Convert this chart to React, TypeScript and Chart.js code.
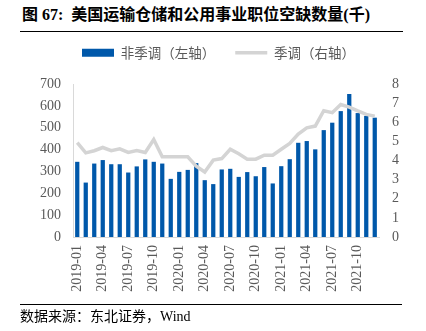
import React, { useEffect, useRef } from "react";
import { Chart, registerables } from "chart.js";

Chart.register(...registerables);

const categories = [
  "2019-01", "2019-02", "2019-03", "2019-04", "2019-05", "2019-06",
  "2019-07", "2019-08", "2019-09", "2019-10", "2019-11", "2019-12",
  "2020-01", "2020-02", "2020-03", "2020-04", "2020-05", "2020-06",
  "2020-07", "2020-08", "2020-09", "2020-10", "2020-11", "2020-12",
  "2021-01", "2021-02", "2021-03", "2021-04", "2021-05", "2021-06",
  "2021-07", "2021-08", "2021-09", "2021-10", "2021-11", "2021-12",
];

const nonSeasonal = [
  344, 249, 336, 352, 333, 333, 295, 323, 355, 344, 336, 266,
  298, 307, 338, 260, 242, 309, 312, 275, 297, 278, 320, 245,
  324, 356, 431, 439, 401, 489, 523, 576, 654, 567, 554, 546,
];

const seasonal = [
  4.93, 4.4, 4.51, 4.68, 4.51, 4.61, 4.42, 4.52, 4.42, 5.1, 4.19, 4.19,
  4.19, 4.19, 3.7, 3.4, 4.02, 4.1, 4.59, 4.35, 4.07, 4.07, 4.28, 4.28,
  4.59, 4.89, 5.38, 5.71, 5.8, 6.6, 6.5, 6.93, 6.79, 6.59, 6.41, 6.32,
];

const seriesNames = ["非季调（左轴）", "季调（右轴）"];
const titleText = "图 67:  美国运输仓储和公用事业职位空缺数量(千)";
const sourceText = "数据来源：东北证券，Wind";

const BLUE = "#0058AA";
const GREY = "#D4D4D4";
const TICK = "#595959";
const SERIF = "'Times New Roman', 'Liberation Serif', serif";
const CJK = "'Noto Sans CJK SC', sans-serif";

export default function App() {
  const ref = useRef<HTMLCanvasElement | null>(null);

  useEffect(() => {
    if (!ref.current) return;
    const legendHeight = {
      id: "legendHeight",
      beforeInit(chart: any) {
        const orig = chart.legend.fit;
        chart.legend.fit = function () {
          orig.bind(chart.legend)();
          this.height = 58;
        };
      },
    };
    const chart = new Chart(ref.current, {
      type: "bar",
      data: {
        labels: categories,
        datasets: [
          {
            type: "line",
            label: seriesNames[1],
            data: seasonal,
            yAxisID: "y1",
            borderColor: GREY,
            backgroundColor: GREY,
            borderWidth: 3.5,
            pointRadius: 0,
            tension: 0,
            order: 0,
          } as any,
          {
            type: "bar",
            label: seriesNames[0],
            data: nonSeasonal,
            yAxisID: "y",
            backgroundColor: BLUE,
            borderWidth: 0,
            barPercentage: 0.5,
            categoryPercentage: 1,
            order: 1,
          },
        ],
      },
      options: {
        animation: false,
        responsive: false,
        maintainAspectRatio: false,
        layout: { padding: { top: 26, left: 11, right: 0, bottom: 0 } },
        plugins: {
          tooltip: { enabled: false },
          legend: {
            position: "top",
            labels: {
              usePointStyle: true,
              pointStyleWidth: 32,
              boxHeight: 8,
              padding: 20,
              color: TICK,
              font: { family: CJK, size: 13.5 },
              generateLabels: () => [
                {
                  text: seriesNames[0],
                  fillStyle: BLUE,
                  strokeStyle: BLUE,
                  lineWidth: 0,
                  pointStyle: "rect",
                  hidden: false,
                  datasetIndex: 1,
                  fontColor: TICK,
                } as any,
                {
                  text: seriesNames[1],
                  fillStyle: GREY,
                  strokeStyle: GREY,
                  lineWidth: 3.5,
                  pointStyle: "line",
                  hidden: false,
                  datasetIndex: 0,
                  fontColor: TICK,
                } as any,
              ],
            },
          },
        },
        scales: {
          x: {
            grid: { display: false, drawTicks: false },
            border: { display: true, color: "#D9D9D9", width: 1 },
            afterFit: (s: any) => {
              s.height = 94;
            },
            ticks: {
              autoSkip: false,
              maxRotation: 90,
              minRotation: 90,
              padding: 8,
              color: TICK,
              font: { family: SERIF, size: 14 },
              callback: (_v: any, i: number) => (i % 3 === 0 ? categories[i] : ""),
            },
          },
          y: {
            position: "left",
            min: 0,
            max: 700,
            grid: { display: false, drawTicks: false },
            border: { display: true, color: "#D9D9D9", width: 1 },
            afterFit: (s: any) => {
              s.width = 62;
            },
            ticks: {
              stepSize: 100,
              autoSkip: false,
              padding: 12,
              color: TICK,
              font: { family: SERIF, size: 14 },
            },
          },
          y1: {
            position: "right",
            min: 0,
            max: 8,
            grid: { display: false, drawTicks: false },
            border: { display: false },
            afterFit: (s: any) => {
              s.width = 47;
            },
            ticks: {
              stepSize: 1,
              autoSkip: false,
              padding: 13,
              color: TICK,
              font: { family: SERIF, size: 14 },
            },
          },
        },
      },
      plugins: [legendHeight],
    });
    return () => chart.destroy();
  }, []);

  return (
    <div
      style={{
        position: "absolute",
        left: 0,
        top: 0,
        width: 426,
        height: 331,
        background: "#fff",
        overflow: "hidden",
      }}
    >
      <div
        style={{
          position: "absolute",
          left: 22,
          top: 5,
          whiteSpace: "pre",
          fontFamily: "'Times New Roman', 'Liberation Serif', 'Noto Sans CJK SC', serif",
          fontWeight: "bold",
          fontSize: 16,
          lineHeight: "20px",
          color: "#000",
        }}
      >
        {titleText}
      </div>
      <div
        style={{
          position: "absolute",
          left: 20,
          top: 31,
          width: 383,
          height: 1,
          background: "#000",
        }}
      />
      <canvas
        ref={ref}
        width={426}
        height={331}
        style={{ position: "absolute", left: 0, top: 0, width: 426, height: 331 }}
      />
      <div
        style={{
          position: "absolute",
          left: 20,
          top: 304,
          width: 382,
          height: 1,
          background: "#000",
        }}
      />
      <div
        style={{
          position: "absolute",
          left: 20,
          top: 307,
          whiteSpace: "pre",
          fontFamily: "'Times New Roman', 'Liberation Serif', 'Noto Sans CJK SC', serif",
          fontSize: 14,
          lineHeight: "20px",
          color: "#000",
        }}
      >
        {sourceText}
      </div>
    </div>
  );
}
